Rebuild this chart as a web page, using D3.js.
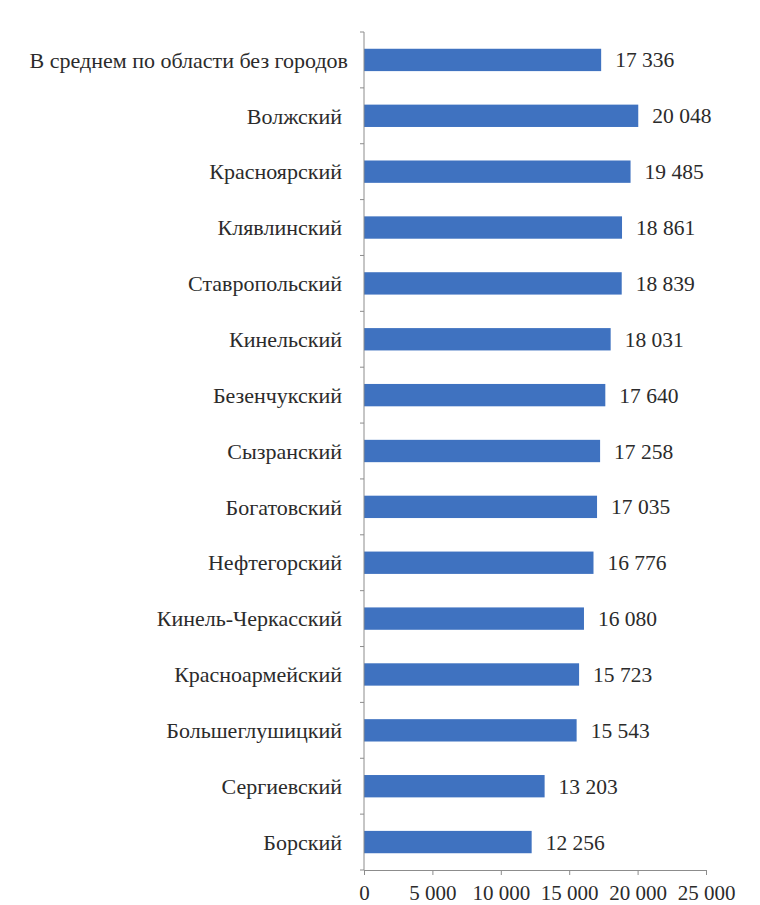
<!DOCTYPE html>
<html>
<head>
<meta charset="utf-8">
<script src="https://cdn.jsdelivr.net/npm/d3@7"></script>
</head>
<body style="margin:0">
<div id="chart"></div>
<script>
var w = 760;
var h = 905;

var categories = [
  "В среднем по области без городов",
  "Волжский",
  "Красноярский",
  "Клявлинский",
  "Ставропольский",
  "Кинельский",
  "Безенчукский",
  "Сызранский",
  "Богатовский",
  "Нефтегорский",
  "Кинель-Черкасский",
  "Красноармейский",
  "Большеглушицкий",
  "Сергиевский",
  "Борский"
];
var values = [17336, 20048, 19485, 18861, 18839, 18031, 17640, 17258, 17035, 16776, 16080, 15723, 15543, 13203, 12256];
var xTicks = [0, 5000, 10000, 15000, 20000, 25000];

var plotLeft = 364, plotRight = 706, plotTop = 32, plotBottom = 870;
var fontFam = "'Liberation Serif'";
var textColor = "#2b2b2b";

var svg = d3
  .select("#chart")
  .append("svg")
  .attr("width", w)
  .attr("height", h);

var fmt = function (d) {
  return d3.format(",")(d).replace(/,/g, "\u00a0");
};

// Scales
var xScale = d3.scaleLinear().domain([0, 25000]).range([plotLeft, plotRight]);

var yScale = d3
  .scaleBand()
  .domain(categories)
  .range([plotTop, plotBottom])
  .paddingInner(0.6)
  .paddingOuter(0.3);

// Bars
svg
  .selectAll("rect.bar")
  .data(values)
  .enter()
  .append("rect")
  .attr("class", "bar")
  .attr("x", xScale(0))
  .attr("y", function (d, i) {
    return yScale(categories[i]);
  })
  .attr("width", function (d) {
    return xScale(d) - xScale(0);
  })
  .attr("height", yScale.bandwidth())
  .attr("fill", "#3f72c0");

// Value labels
svg
  .selectAll("text.val")
  .data(values)
  .enter()
  .append("text")
  .attr("class", "val")
  .attr("x", function (d) {
    return xScale(d) + 14;
  })
  .attr("y", function (d, i) {
    return yScale(categories[i]) + yScale.bandwidth() / 2;
  })
  .attr("dy", "0.35em")
  .style("font-family", fontFam)
  .style("font-size", "21.5px")
  .style("fill", textColor)
  .text(fmt);

// Y axis: line with ticks at category boundaries
var yAxis = svg.append("g");
yAxis
  .append("line")
  .attr("x1", plotLeft)
  .attr("x2", plotLeft)
  .attr("y1", plotTop)
  .attr("y2", plotBottom)
  .attr("stroke", "#8c8c8c");

yAxis
  .selectAll("line.tick")
  .data(d3.range(categories.length + 1))
  .enter()
  .append("line")
  .attr("class", "tick")
  .attr("x1", plotLeft - 4)
  .attr("x2", plotLeft)
  .attr("y1", function (i) {
    return plotTop + i * yScale.step();
  })
  .attr("y2", function (i) {
    return plotTop + i * yScale.step();
  })
  .attr("stroke", "#8c8c8c");

yAxis
  .selectAll("text")
  .data(categories)
  .enter()
  .append("text")
  .attr("x", function (d, i) {
    // the first label sits a bit closer to the axis
    return i === 0 ? plotLeft - 16 : plotLeft - 22;
  })
  .attr("y", function (d) {
    return yScale(d) + yScale.bandwidth() / 2;
  })
  .attr("dy", "0.35em")
  .attr("text-anchor", "end")
  .style("font-family", fontFam)
  .style("font-size", "22px")
  .style("fill", textColor)
  .text(function (d) {
    return d;
  });

// X axis
var xAxis = svg
  .append("g")
  .attr("transform", "translate(0," + plotBottom + ")")
  .call(
    d3.axisBottom(xScale)
      .tickValues(xTicks)
      .tickSize(5)
      .tickPadding(10)
      .tickFormat(fmt)
  );

xAxis.select(".domain").attr("stroke", "#8c8c8c");
xAxis.selectAll(".tick line").attr("stroke", "#8c8c8c");
xAxis
  .selectAll(".tick text")
  .style("font-family", fontFam)
  .style("font-size", "21px")
  .style("fill", textColor);
</script>
</body>
</html>
